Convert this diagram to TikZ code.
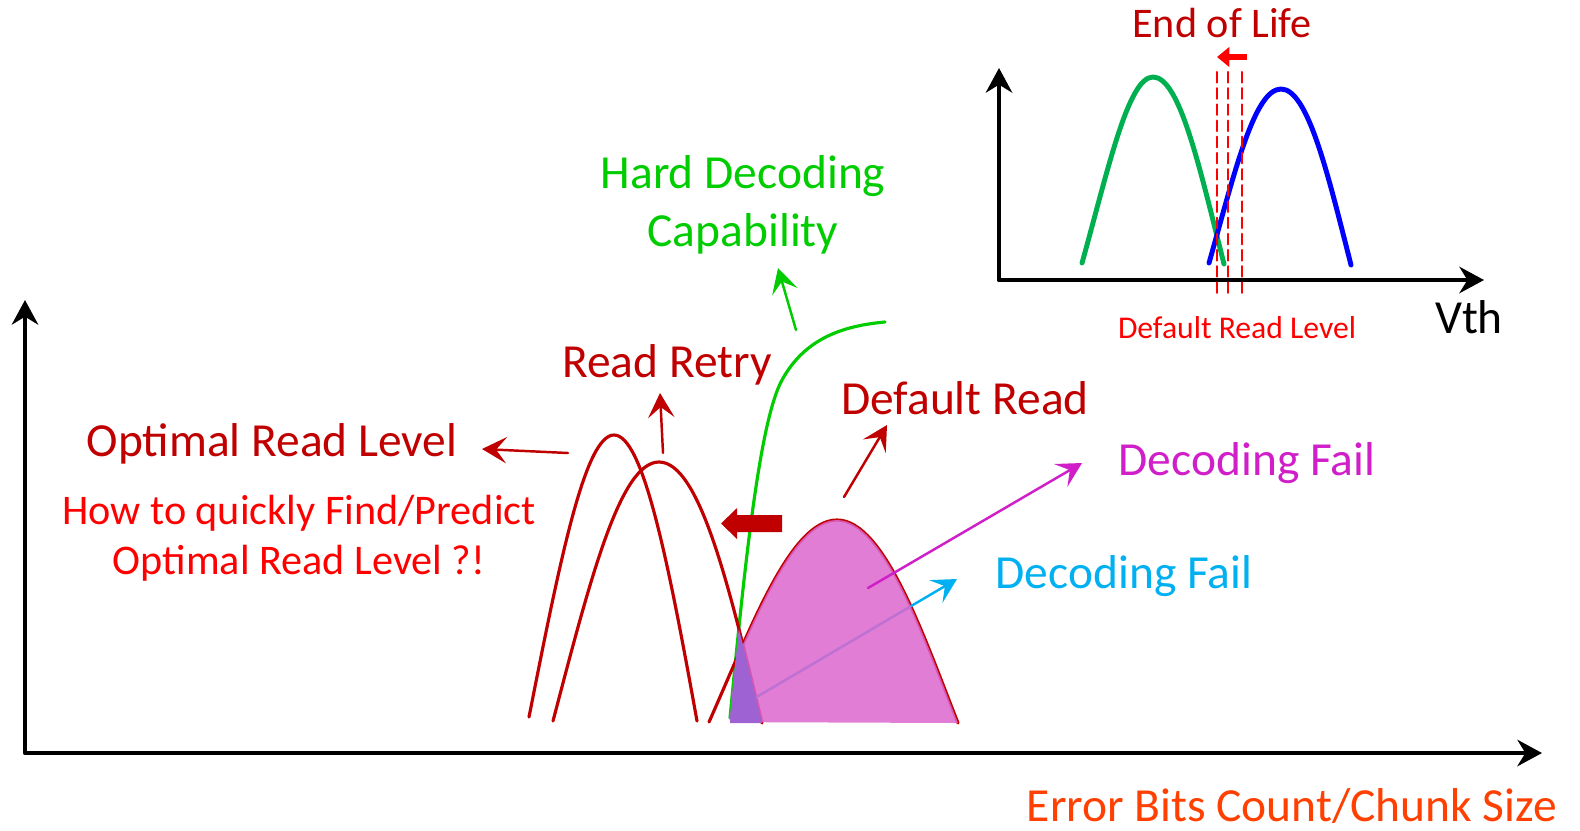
\documentclass[tikz,border=0pt]{standalone}
\usepackage{fontspec}
\setmainfont{Carlito}
\usetikzlibrary{arrows.meta}

\definecolor{darkred}{HTML}{C00000}
\definecolor{brightred}{HTML}{FF0000}
\definecolor{hdgreen}{HTML}{00CC00}
\definecolor{vgreen}{HTML}{00B050}
\definecolor{vblue}{HTML}{0000FF}
\definecolor{failmag}{HTML}{D01EC8}
\definecolor{failfill}{HTML}{DD66CE}
\definecolor{failpurple}{HTML}{9F62D2}
\definecolor{failcyan}{HTML}{00B0F0}
\definecolor{axisorange}{HTML}{FF4000}

\begin{document}
\begin{tikzpicture}[line cap=round,line join=round,x=0.01cm,y=-0.01cm,
    lbl/.style={inner sep=0pt,font=\fontsize{13.5}{16.5}\selectfont},
    axis/.style={line width=1.2pt,{Stealth[length=7pt,width=7.5pt]}-{Stealth[length=7pt,width=7.5pt]}},
    dist/.style={darkred,line width=0.9pt},
    pointer/.style={line width=0.7pt,-{Stealth[length=7pt,width=7.5pt,inset=3pt]}},
    rdash/.style={brightred,line width=0.6pt,dash pattern=on 3pt off 1.6pt}]

    \useasboundingbox (0,0) rectangle (1580,830);

    % main axes
    \coordinate (ytop) at (25,300);
    \coordinate (orig) at (25,753);
    \coordinate (xend) at (1542,753);
    \draw[axis] (ytop) -- (orig) -- (xend);
    \node[lbl,axisorange] (xlabel) at (1292,806) {Error Bits Count/Chunk Size};

    % inset: end of life distributions
    \coordinate (iytop) at (999,68);
    \coordinate (iorig) at (999,280);
    \coordinate (ixend) at (1484,280);
    \draw[axis,line width=1.4pt] (iytop) -- (iorig) -- (ixend);
    \draw[vgreen,line width=1.4pt] (1082,263) .. controls (1108,170) and (1128,77) .. (1153,77) .. controls (1180,77) and (1200,170) .. (1224,264);
    \draw[vblue,line width=1.4pt] (1209,263) .. controls (1234,175) and (1254,89) .. (1281,89) .. controls (1308,89) and (1328,175) .. (1351,265);
    \foreach \x in {1217,1228,1242}
        \draw[rdash] (\x,72) -- (\x,295);
    \coordinate (shiftA) at (1247,57);
    \coordinate (shiftB) at (1217,57);
    \draw[brightred,line width=1.5pt,line cap=butt,-{Triangle[length=3.5pt,width=5.5pt]}] (shiftA) -- (shiftB);
    \node[lbl,darkred,font=\fontsize{12}{14}\selectfont] (eol) at (1222,23) {End of Life};
    \node[lbl,brightred,font=\fontsize{9}{11}\selectfont] (drl) at (1237,328) {Default Read Level};
    \node[lbl] (vth) at (1469,317) {Vth};

    % hard decoding capability
    \draw[hdgreen,line width=0.9pt] (730,718) .. controls (745,560) and (760,420) .. (782,380) .. controls (804,340) and (840,326) .. (885,322);
    \coordinate (hdTail) at (796,330);
    \coordinate (hdTip) at (778,268);
    \draw[pointer,hdgreen] (hdTail) -- (hdTip);
    \node[lbl,hdgreen,align=center] (hdc) at (743,205) {Hard Decoding\\Capability};

    % read level distributions
    \draw[dist] (529,717) .. controls (560,560) and (585,435) .. (614,435) .. controls (643,435) and (668,560) .. (697,721);
    \draw[dist] (553,721) .. controls (590,580) and (620,462) .. (659,462) .. controls (700,462) and (730,590) .. (762,723);
    \draw[dist] (709,722) .. controls (750,630) and (790,520) .. (837,520) .. controls (885,520) and (925,640) .. (958,723);

    % cyan decoding fail
    \coordinate (cyTail) at (743,705);
    \coordinate (cyTip) at (957,579);
    \draw[pointer,failcyan] (cyTail) -- (cyTip);
    \node[lbl,failcyan] (failcy) at (1124,576) {Decoding Fail};

    % failing area right of the capability curve
    \begin{scope}
        \clip (730,718) .. controls (745,560) and (760,420) .. (782,380) -- (1000,380) -- (1000,730) -- (730,730) -- cycle;
        \fill[failfill,opacity=0.85] (709,722) .. controls (750,630) and (790,520) .. (837,520) .. controls (885,520) and (925,640) .. (958,723) -- cycle;
        \fill[failpurple] (659,462) .. controls (700,462) and (730,590) .. (762,723) -- (700,723) -- cycle;
    \end{scope}

    % magenta decoding fail
    \coordinate (mgTail) at (868,588);
    \coordinate (mgTip) at (1082,463);
    \draw[pointer,failmag] (mgTail) -- (mgTip);
    \node[lbl,failmag] (failmg) at (1247,463) {Decoding Fail};

    % labels of the read levels
    \coordinate (optTail) at (568,453);
    \coordinate (optTip) at (482,449);
    \draw[pointer,darkred] (optTail) -- (optTip);
    \node[lbl,darkred] (optimal) at (272,444) {Optimal Read Level};
    \node[lbl,brightred,align=center,font=\fontsize{12}{14.2}\selectfont] (howto) at (299,538) {How to quickly Find/Predict\\Optimal Read Level ?!};

    \coordinate (rrTail) at (663,453);
    \coordinate (rrTip) at (660,393);
    \draw[pointer,darkred] (rrTail) -- (rrTip);
    \node[lbl,darkred] (retry) at (667,365) {Read Retry};

    \coordinate (drTail) at (844,497);
    \coordinate (drTip) at (887,425);
    \draw[pointer,darkred] (drTail) -- (drTip);
    \node[lbl,darkred] (dread) at (965,398) {Default Read};

    % shift to the left
    \fill[darkred] (782,515) -- (737,515) -- (737,508) -- (721,523.5) -- (737,539) -- (737,532) -- (782,532) -- cycle;

\end{tikzpicture}
\end{document}
